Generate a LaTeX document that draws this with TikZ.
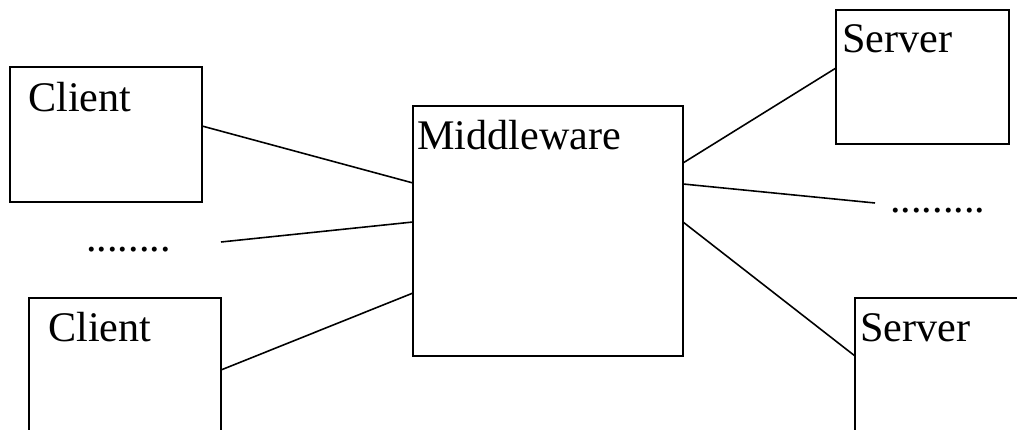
\documentclass[tikz,border=0pt]{standalone}
\usepackage{fontspec}
\setmainfont{Liberation Serif}
\begin{document}
\begin{tikzpicture}[
    box/.style={draw,line width=0.7pt,inner sep=0pt,outer sep=0pt},
    lbl/.style={font=\fontsize{24}{29}\selectfont,anchor=base west,inner sep=0pt},
    link/.style={line width=0.9pt}]
  \useasboundingbox (0,0) rectangle (20.34,8.6);
  % boxes
  \path[box]
    (2.12, 5.91) node[box,minimum width=3.84cm,minimum height=2.70cm] (client1){}
    (2.50, 0.82) node[box,minimum width=3.84cm,minimum height=3.64cm] (client2){}
    (10.96, 3.98) node[box,minimum width=5.40cm,minimum height=5.00cm] (mw){}
    (18.45, 7.06) node[box,minimum width=3.46cm,minimum height=2.68cm] (server1){}
    (19.15, 0.82) node[box,minimum width=4.10cm,minimum height=3.64cm] (server2){};
  % labels
  \node[lbl] (client1txt) at ([shift={(0.36,-0.90)}]client1.north west) {Client};
  \node[lbl] (client2txt) at ([shift={(0.38,-0.88)}]client2.north west) {Client};
  \node[lbl] (mwtxt) at ([shift={(0.08,-0.88)}]mw.north west) {Middleware};
  \node[lbl] (server1txt) at ([shift={(0.12,-0.86)}]server1.north west) {Server};
  \node[lbl] (server2txt) at ([shift={(0.10,-0.88)}]server2.north west) {Server};
  \node[lbl] (moreclients) at (1.72, 3.56) {........};
  \node[lbl] (moreservers) at (17.80, 4.34) {.........};
  \coordinate (clientend) at (4.42, 3.76);
  \coordinate (serverend) at (17.50, 4.54);
  % links
  \begin{scope}[link]
    \draw ([yshift=0.17cm]client1.east) -- ([yshift=0.96cm]mw.west);
    \draw (clientend) -- ([yshift=0.18cm]mw.west);
    \draw ([yshift=0.38cm]client2.east) -- ([yshift=-1.24cm]mw.west);
    \draw ([yshift=1.36cm]mw.east) -- ([yshift=0.18cm]server1.west);
    \draw ([yshift=0.94cm]mw.east) -- (serverend);
    \draw ([yshift=0.18cm]mw.east) -- ([yshift=0.66cm]server2.west);
  \end{scope}
\end{tikzpicture}
\end{document}
